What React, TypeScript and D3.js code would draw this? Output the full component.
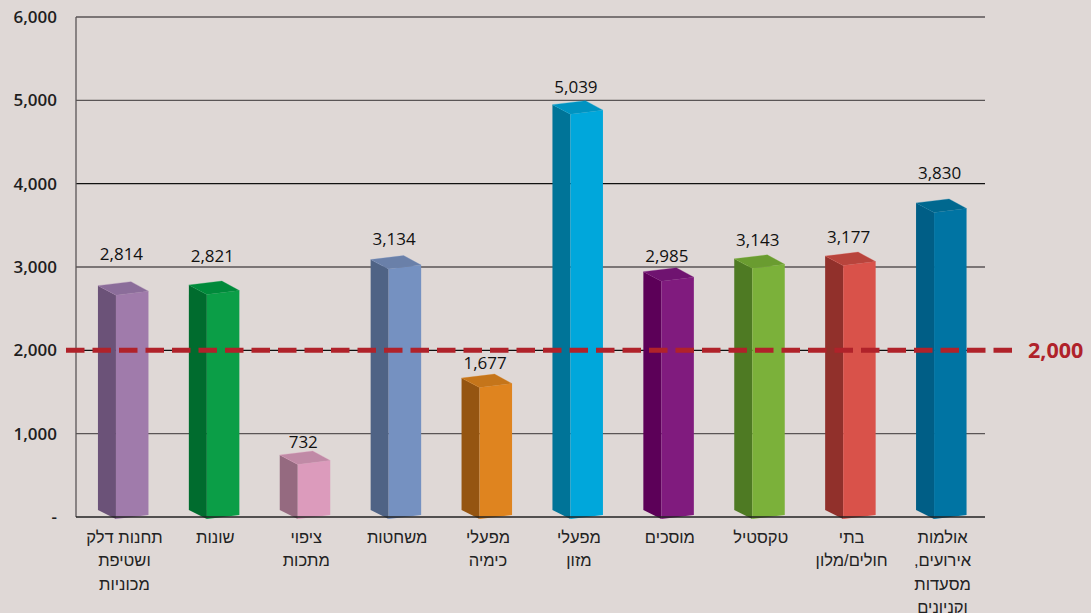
import React from 'react';
import * as d3 from 'd3';

// categories (Hebrew, split into display lines)
const categories = [
  'תחנות דלק ושטיפת מכוניות',
  'שונות',
  'ציפוי מתכות',
  'משחטות',
  'מפעלי כימיה',
  'מפעלי מזון',
  'מוסכים',
  'טקסטיל',
  'בתי חולים/מלון',
  'אולמות אירועים, מסעדות וקניונים',
];
const labelLines = [
  ['תחנות דלק', 'ושטיפת', 'מכוניות'],
  ['שונות'],
  ['ציפוי', 'מתכות'],
  ['משחטות'],
  ['מפעלי', 'כימיה'],
  ['מפעלי', 'מזון'],
  ['מוסכים'],
  ['טקסטיל'],
  ['בתי', 'חולים/מלון'],
  ['אולמות', 'אירועים,', 'מסעדות', 'וקניונים'],
];
const values = [2814, 2821, 732, 3134, 1677, 5039, 2985, 3143, 3177, 3830];
const yTicks = [0, 1000, 2000, 3000, 4000, 5000, 6000];
const threshold = 2000;

// front / side / top colours for each bar
const frontColors = ['#a07bab', '#0b9e47', '#dc9bbc', '#7591c1', '#df841f', '#00a7db', '#801b7e', '#7bb13a', '#d9524a', '#0074a3'];
const sideColors = ['#6b5278', '#006c2e', '#956a80', '#4f6385', '#955511', '#007498', '#5c0058', '#4e7a23', '#91302b', '#005e86'];
const topColors = ['#8b6d9a', '#008a3b', '#c08aa6', '#6a80a9', '#c5751a', '#0093c1', '#6f1370', '#6a9c30', '#b8443c', '#00688f'];

// gap between bar top and its value label (Excel placed these unevenly)
const labelGap = [21.6, 19.4, 2.7, 10.6, 4.8, 7.4, 6, 8.9, 9.4, 19.7];

const W = 1091;
const H = 613;
const margin = { left: 76, right: 106, top: 17, bottom: 96 };

const App: React.FC = () => {
  const x = d3.scaleBand<string>()
    .domain(categories)
    .range([margin.left, W - margin.right])
    .padding(0);
  const y = d3.scaleLinear().domain([0, 6000]).range([H - margin.bottom, margin.top]);
  // back plane of the 3D bars is slightly compressed
  const yBack = d3.scaleLinear().domain([0, 6000]).range([y(0) - 6.5, y(6000) + 5.5]);

  const fmt = d3.format(',');
  const x0 = margin.left;
  const x1 = W - margin.right;
  const y0 = y(0);

  return (
    <div style={{ position: 'fixed', left: 0, top: 0 }}>
      <svg width={W} height={H} style={{ display: 'block' }}>
        <rect width={W} height={H} fill="#dfd8d6" />

        {/* gridlines */}
        {yTicks.filter(t => t > 0).map(t => (
          <line key={t} x1={x0} x2={x1} y1={y(t)} y2={y(t)}
            stroke={t === 4000 || t === 2000 ? '#111' : '#5a5556'} strokeWidth={1.3} />
        ))}
        <line x1={x0} x2={x0} y1={y(6000)} y2={y0} stroke="#5a5556" strokeWidth={1.3} />

        {/* y tick labels */}
        {yTicks.map(t => (
          <text key={t} x={57} y={y(t)} dy="0.36em" textAnchor="end"
            fontFamily="'Open Sans', sans-serif" fontWeight={600} fontSize={17} fill="#1e1e1e">
            {t === 0 ? '-' : fmt(t)}
          </text>
        ))}

        {/* 3D bars */}
        {values.map((v, i) => {
          const c = x(categories[i])! + x.bandwidth() / 2;
          const t = yBack(v);
          const sideL = c - 23.5;
          const frontL = c - 5.5;
          const frontR = c + 27;
          const backR = c + 9.5;
          const top = `M${sideL},${t + 4}L${backR},${t}L${frontR},${t + 9.5}L${frontL},${t + 13.5}Z`;
          const side = `M${sideL},${t + 4}L${frontL},${t + 13.5}L${frontL},${y0 + 2}L${sideL},${y0 - 7}Z`;
          const front = `M${frontL},${t + 13.5}L${frontR},${t + 9.5}L${frontR},${y0 - 2}L${frontL},${y0 + 2}Z`;
          return (
            <g key={i}>
              <path d={side} fill={sideColors[i]} />
              <path d={front} fill={frontColors[i]} />
              <path d={top} fill={topColors[i]} stroke={frontColors[i]} strokeOpacity={0.5} strokeWidth={0.6} />
              <text x={c} y={t - labelGap[i]} textAnchor="middle"
                fontFamily="'Open Sans', sans-serif" fontSize={17} fill="#111">
                {fmt(v)}
              </text>
            </g>
          );
        })}

        {/* bottom axis line */}
        <line x1={x0} x2={x1} y1={y0} y2={y0} stroke="#222" strokeWidth={1.3} />

        {/* threshold line */}
        <line x1={66} x2={1015} y1={y(threshold)} y2={y(threshold)}
          stroke="#b0222a" strokeWidth={5} strokeDasharray="18.5 8" />
        <text x={1028} y={y(threshold)} dy="0.36em" fontFamily="'Open Sans', sans-serif"
          fontWeight={700} fontSize={21.5} fill="#b0222a">
          {fmt(threshold)}
        </text>

        {/* category labels */}
        {labelLines.map((lines, i) => {
          const c = x(categories[i])! + x.bandwidth() / 2 + 3;
          return (
            <text key={i} textAnchor="middle" direction="rtl"
              fontFamily="'Liberation Sans', Arial, sans-serif" fontSize={16.5} fill="#222">
              {lines.map((ln, j) => (
                <tspan key={j} x={c} y={543 + j * 23.3}>{ln}</tspan>
              ))}
            </text>
          );
        })}
      </svg>
    </div>
  );
};

export default App;
